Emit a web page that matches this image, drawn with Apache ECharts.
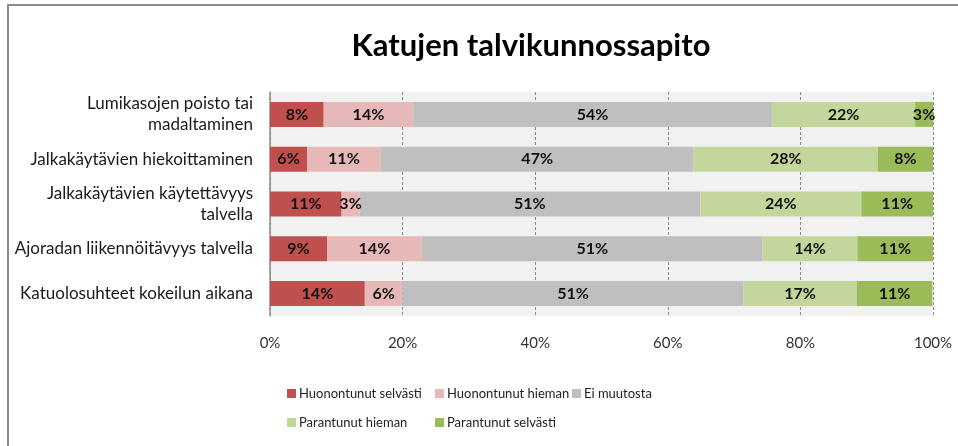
<!DOCTYPE html>
<html>
<head>
<meta charset="utf-8">
<script src="https://cdn.jsdelivr.net/npm/echarts@6/dist/echarts.min.js"></script>
<style>
    html, body { margin: 0; padding: 0; background: #fff; }
    #chart { width: 958px; height: 446px; }
</style>
</head>
<body>
<div id="chart"></div>
<script>
// categories, top to bottom
const categories = [
    'Lumikasojen poisto tai\nmadaltaminen',
    'Jalkakäytävien hiekoittaminen',
    'Jalkakäytävien käytettävyys\ntalvella',
    'Ajoradan liikennöitävyys talvella',
    'Katuolosuhteet kokeilun aikana'
];

const seriesNames = [
    'Huonontunut selvästi',
    'Huonontunut hieman',
    'Ei muutosta',
    'Parantunut hieman',
    'Parantunut selvästi'
];

// shares in percent, one array per answer
const huonontunutSelvasti = [8.1, 5.6, 10.8, 8.6, 14.3];
const huonontunutHieman = [13.5, 11.1, 2.7, 14.3, 5.7];
const eiMuutosta = [54.1, 47.2, 51.4, 51.4, 51.4];
const parantunutHieman = [21.6, 27.8, 24.3, 14.3, 17.1];
const parantunutSelvasti = [2.7, 8.3, 10.8, 11.4, 11.4];

const xTicks = [0, 20, 40, 60, 80, 100];

const colors = ['#c0504d', '#e6b9b8', '#bfbfbf', '#c3d69b', '#9bbb59'];
const values = [huonontunutSelvasti, huonontunutHieman, eiMuutosta, parantunutHieman, parantunutSelvasti];

const font = 'Lato, "Open Sans", sans-serif';

// legend item positions (left, top)
const legendPos = [[282, 382], [430, 382], [567, 382], [282, 411], [430, 411]];

const chart = echarts.init(document.getElementById('chart'));

const options = {
    animation: false,
    textStyle: { fontFamily: font },
    title: {
        text: 'Katujen talvikunnossapito',
        left: 526,
        top: 25,
        textAlign: 'center',
        textStyle: {
            fontFamily: font,
            fontSize: 31,
            fontWeight: 'bold',
            color: '#000'
        }
    },
    graphic: [
        {
            type: 'rect',
            shape: { x: 8, y: 5, width: 1000, height: 500 },
            style: { fill: 'none', stroke: '#8c8c8c', lineWidth: 2 },
            silent: true
        }
    ],
    legend: legendPos.map((p, i) => ({
        data: [seriesNames[i]],
        left: p[0],
        top: p[1],
        itemWidth: 9,
        itemHeight: 9,
        icon: 'rect',
        itemGap: 0,
        textStyle: {
            fontFamily: font,
            fontSize: 13,
            color: '#222',
            padding: [0, 0, 0, -2]
        }
    })),
    grid: {
        left: 270,
        right: 25,
        top: 92,
        bottom: 130,
        show: true,
        backgroundColor: '#f1f1f1',
        borderWidth: 0
    },
    xAxis: {
        type: 'value',
        min: xTicks[0],
        max: xTicks[xTicks.length - 1],
        interval: xTicks[1] - xTicks[0],
        axisLine: { show: false },
        axisTick: { show: false },
        axisLabel: {
            margin: 20,
            fontFamily: font,
            fontSize: 15,
            color: '#333',
            formatter: '{value}%'
        },
        splitLine: {
            show: true,
            lineStyle: {
                color: '#8c8c8c',
                width: 1,
                type: [3, 2]
            }
        }
    },
    yAxis: {
        type: 'category',
        inverse: true,
        data: categories,
        axisLine: {
            show: true,
            lineStyle: { color: '#8c8c8c', width: 1.5 }
        },
        axisTick: { show: false },
        axisLabel: {
            margin: 17,
            fontFamily: font,
            fontSize: 17,
            lineHeight: 21,
            color: '#1a1a1a',
            align: 'right'
        }
    },
    series: seriesNames.map((name, i) => ({
        name: name,
        type: 'bar',
        stack: 'total',
        barWidth: 25,
        itemStyle: { color: colors[i] },
        label: {
            show: true,
            position: 'inside',
            fontFamily: font,
            fontSize: 16,
            fontWeight: 'bold',
            color: '#111',
            formatter: (params) => Math.round(params.value) + '%'
        },
        data: values[i]
    }))
};

chart.setOption(options);
</script>
</body>
</html>
